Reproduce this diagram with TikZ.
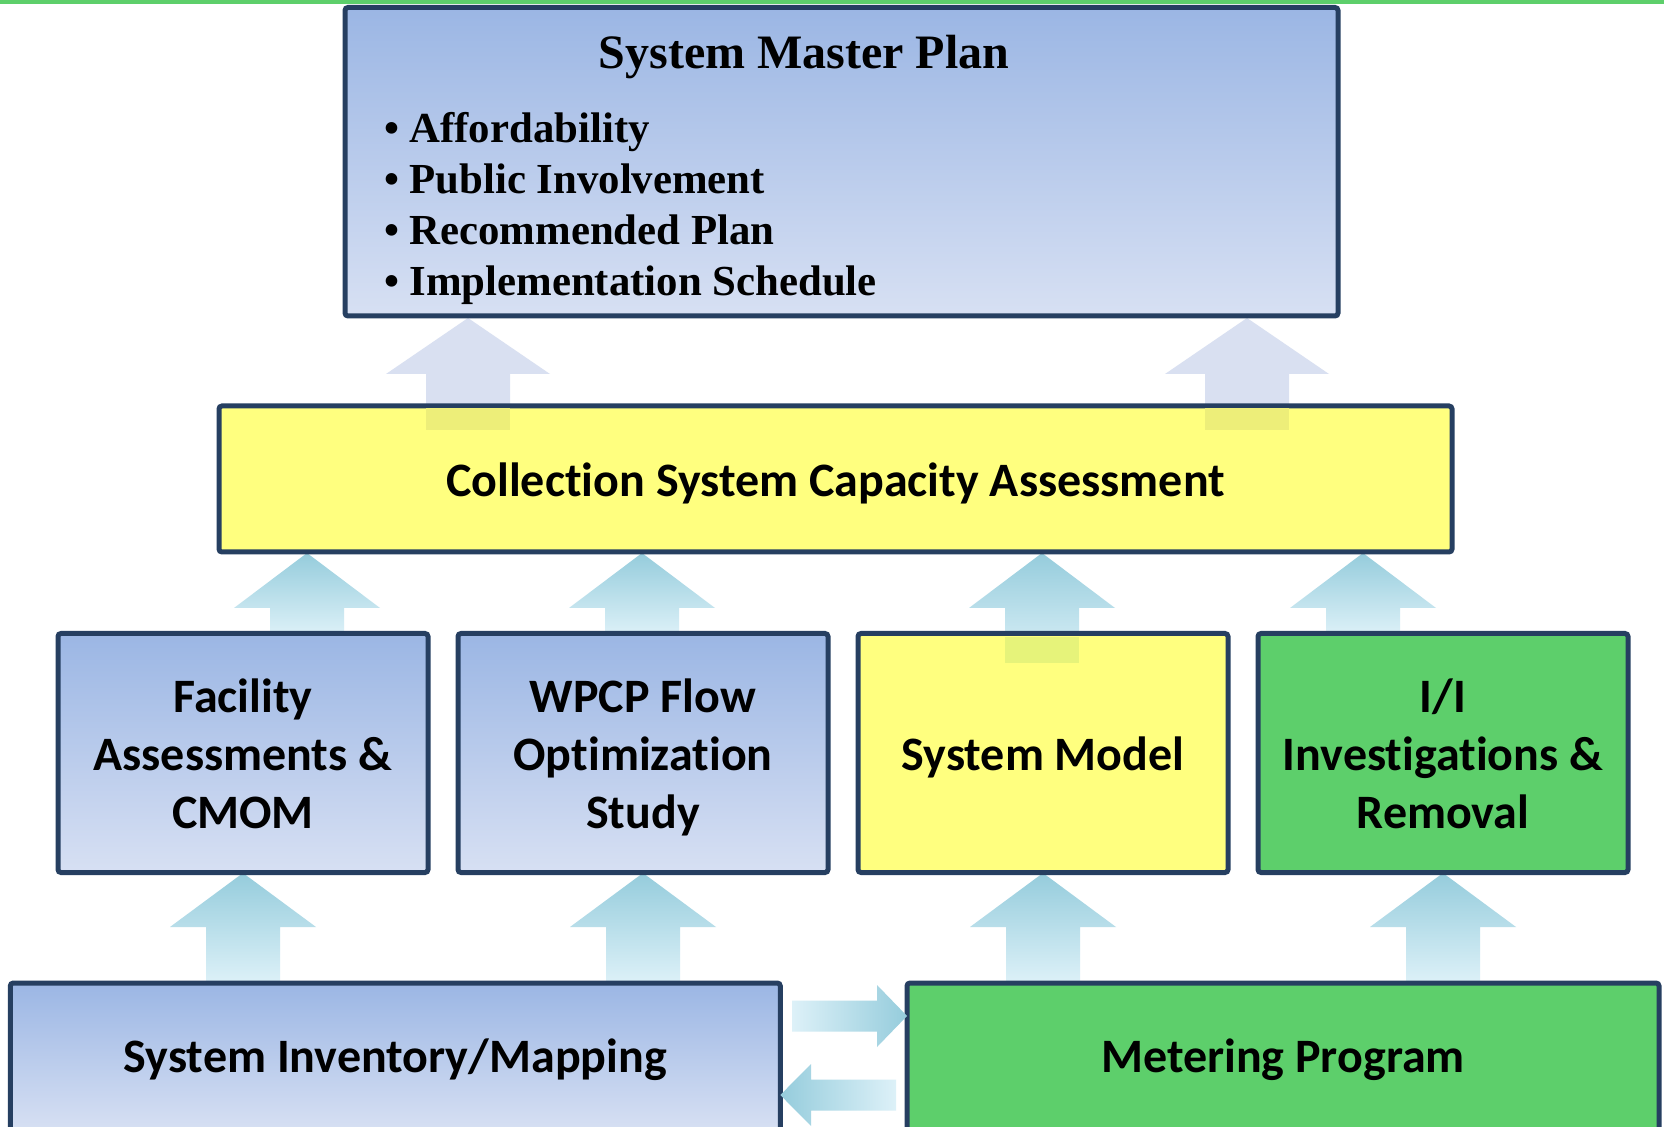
\documentclass[tikz,border=0pt]{standalone}
\usepackage{fontspec}
\setmainfont{Liberation Serif}
\newfontfamily\calfont[Ligatures=NoCommon]{Carlito}
\newcommand{\nti}{t\kern0pt i}
\definecolor{bordc}{HTML}{263F61}
\definecolor{boxtop}{HTML}{9BB6E4}
\definecolor{boxbot}{HTML}{D7E0F3}
\definecolor{yel}{HTML}{FFFF7F}
\definecolor{grn}{HTML}{5DCF6B}
\definecolor{arrtop}{HTML}{95CCDC}
\definecolor{arrbot}{HTML}{DDF1F8}
\definecolor{lav}{HTML}{D9E0F1}
\definecolor{ovlA}{HTML}{EDEE79}
\definecolor{ovlB}{HTML}{E6F37A}
\newcommand{\upblock}[7]{\path[#7] (#1,#2) -- ({#1+#5},#3) -- ({#1+#6},#3) -- ({#1+#6},#4) -- ({#1-#6},#4) -- ({#1-#6},#3) -- ({#1-#5},#3) -- cycle;}
\begin{document}
\begin{tikzpicture}[x=0.5pt,y=-0.5pt,
  boxbase/.style={draw=bordc, line width=2.5pt, rounded corners=1.5pt, inner sep=0pt, outer sep=0pt, rectangle},
  bluebox/.style={boxbase, top color=boxtop, bottom color=boxbot},
  yelbox/.style={boxbase, fill=yel},
  grnbox/.style={boxbase, fill=grn},
  calib/.style={font=\calfont\bfseries\fontsize{24}{29}\selectfont, align=center, inner sep=0pt},
  titlef/.style={font=\bfseries\fontsize{24}{28}\selectfont},
  bulletf/.style={font=\bfseries\fontsize{21.4}{25}\selectfont, anchor=base west},
  gradup/.style={top color=arrtop, bottom color=arrbot},
  lavup/.style={fill=lav},
]
\useasboundingbox (0,0) rectangle (1664,1127);
\clip (0,0) rectangle (1664,1127);
\fill[white] (0,0) rectangle (1664,1127);
% top green line
\fill[grn] (0,0) rectangle (1664,4);

% arrows (drawn behind boxes)
\upblock{468}{318}{374}{430}{82}{42}{lavup}
\upblock{1247}{318}{374}{430}{82}{42}{lavup}
\upblock{307}{553}{608}{635}{73}{37}{gradup}
\upblock{642}{553}{608}{635}{73}{37}{gradup}
\upblock{1042}{553}{608}{663}{73}{37}{gradup}
\upblock{1363}{553}{608}{635}{73}{37}{gradup}
\upblock{243}{873}{927}{983}{73}{37}{gradup}
\upblock{643}{873}{927}{983}{73}{37}{gradup}
\upblock{1043}{873}{927}{983}{73}{37}{gradup}
\upblock{1443}{873}{927}{983}{73}{37}{gradup}

% boxes
\node[bluebox, minimum width=496.5pt, minimum height=154.25pt] (master) at (841.5,161.75) {};
\node[titlef] (title) at (804,57) {System Master Plan};
\node[bulletf] (b1) at (377.5,143) {\textbullet\hspace{5pt}Affordability};
\node[bulletf] (b2) at (377.5,194) {\textbullet\hspace{5pt}Public Involvement};
\node[bulletf] (b3) at (377.5,245) {\textbullet\hspace{5pt}Recommended Plan};
\node[bulletf] (b4) at (377.5,296) {\textbullet\hspace{5pt}Implementation Schedule};

\node[yelbox, minimum width=616.5pt, minimum height=73pt] (coll) at (835.5,479) {};
\node[calib, yshift=-2pt] (collT) at (coll) {Collec\nti on System Capacity Assessment};

\node[bluebox, minimum width=185pt, minimum height=119.5pt] (fac) at (243,753) {};
\node[bluebox, minimum width=185pt, minimum height=119.5pt] (wpcp) at (643,753) {};
\node[yelbox, minimum width=185pt, minimum height=119.5pt] (model) at (1043,753) {};
\node[grnbox, minimum width=185pt, minimum height=119.5pt] (ii) at (1443,753) {};
\node[calib, yshift=-0.5pt] (facT) at (fac) {Facility\\Assessments \&\\CMOM};
\node[calib, yshift=-2pt] (wpcpT) at (wpcp) {WPCP Flow\\Optimiza\nti on\\Study};
\node[calib, yshift=-2pt] (modelT) at (model) {System Model};
\node[calib, yshift=-0.5pt] (iiT) at (ii) {I/I\\Investiga\nti ons \&\\Removal};

\node[bluebox, minimum width=385pt, minimum height=74pt] (inv) at (395.3,1057) {};
\node[grnbox, minimum width=376pt, minimum height=74pt] (met) at (1283,1057) {};
\node[calib, yshift=-1.5pt] (invT) at (inv) {System Inventory/Mapping};
\node[calib, yshift=-1.5pt] (metT) at (met) {Metering Program};

% overlaps of arrow shafts inside boxes
\fill[ovlA] (426,408.5) rectangle (510,430);
\fill[ovlA] (1205,408.5) rectangle (1289,430);
\fill[ovlB] (1005,637.5) rectangle (1079,663);

% horizontal arrows between bottom boxes
\path[left color=arrbot, right color=arrtop] (792,1000.5) -- (877,1000.5) -- (877,985) -- (met.west |- 0,1016) -- (877,1047) -- (877,1031.5) -- (792,1031.5) -- cycle;
\path[left color=arrtop, right color=arrbot] (inv.east |- 0,1095) -- (811,1064) -- (811,1079.5) -- (896,1079.5) -- (896,1110.5) -- (811,1110.5) -- (811,1126) -- cycle;
\end{tikzpicture}
\end{document}
